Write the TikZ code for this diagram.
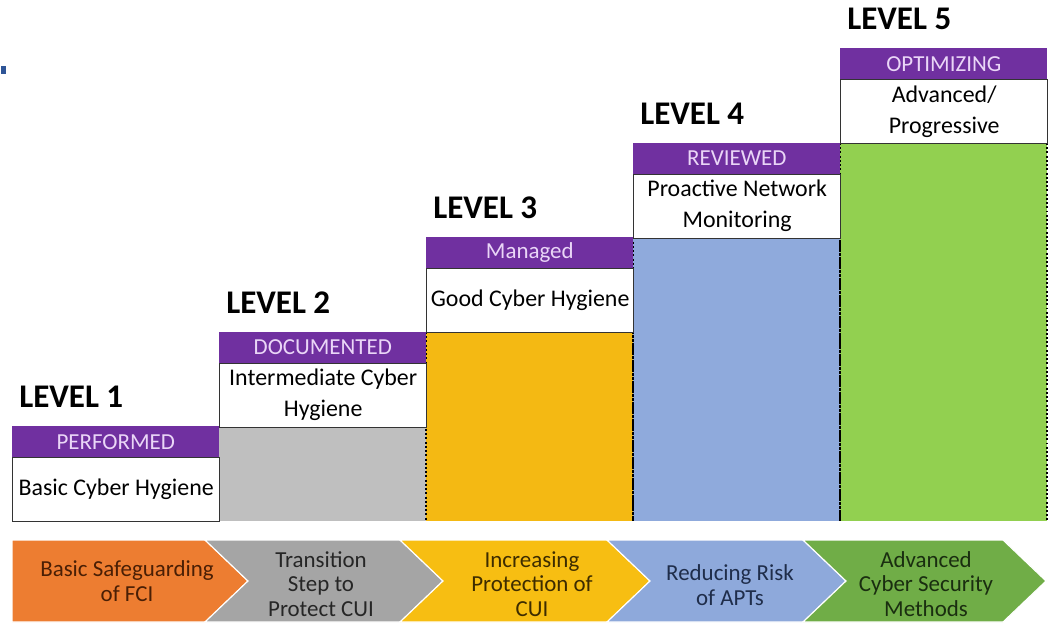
\documentclass[tikz,border=0pt]{standalone}
\usepackage{fontspec}
\setmainfont{Carlito}
\usepackage{xcolor}
\definecolor{lvlpurple}{HTML}{7030A0}
\definecolor{taglav}{HTML}{EAD6F7}
\definecolor{colgray}{HTML}{BFBFBF}
\definecolor{colgold}{HTML}{F4B913}
\definecolor{colblue}{HTML}{8FAADC}
\definecolor{colgreen}{HTML}{92D050}
\definecolor{chorange}{HTML}{ED7D31}
\definecolor{chgray}{HTML}{A5A5A5}
\definecolor{chyellow}{HTML}{F7BE12}
\definecolor{chblue}{HTML}{8EA9DB}
\definecolor{chgreen}{HTML}{70AD47}
\definecolor{txorange}{HTML}{4A1F05}
\definecolor{txgray}{HTML}{262626}
\definecolor{txyellow}{HTML}{3D2C00}
\definecolor{txblue}{HTML}{1F2D4A}
\definecolor{txgreen}{HTML}{1A2E10}
\definecolor{dotblue}{HTML}{2F5597}

\begin{document}
\begin{tikzpicture}
        [
            x=0.025cm, y=-0.025cm,
            tagbar/.style={rectangle, fill=lvlpurple, text=taglav, inner sep=0pt, anchor=north west,
                minimum width=5.175cm, minimum height=0.775cm, font=\fontsize{16.3}{18}\selectfont},
            descbox/.style={rectangle, draw=black!80, line width=0.9pt, fill=white, inner sep=0pt, anchor=north west,
                minimum width=5.175cm, minimum height=1.6cm, align=center, font=\fontsize{17}{22}\selectfont},
            levelname/.style={anchor=west, inner sep=0pt, font=\fontsize{23.5}{26}\selectfont\bfseries},
            phasetext/.style={align=center, inner sep=0pt, font=\fontsize{16.3}{17.5}\selectfont},
            dotside/.style={line width=1.4pt, dash pattern=on 1.4pt off 1.6pt},
        ]
    \useasboundingbox (0,0) rectangle (1051,638);
    \fill[dotblue] (1,66) rectangle (6,74);

    % coloured columns under the steps
    \foreach \i/\c in {1/colgray,2/colgold,3/colblue,4/colgreen}{
        \pgfmathsetmacro{\xl}{12+207*\i}
        \pgfmathsetmacro{\yt}{426-94.5*\i+95}
        \fill[\c] (\xl,\yt) rectangle (\xl+207,521);
    }
    \foreach \i in {2,3,4}{
        \pgfmathsetmacro{\xl}{12+207*\i}
        \pgfmathsetmacro{\yt}{426-94.5*\i+95}
        \draw[dotside] (\xl,\yt) -- (\xl,521);
        \draw[dotside] (\xl+207,\yt) -- (\xl+207,521);
    }

    % steps
    \foreach \i/\tag/\desc in {0/PERFORMED/{Basic Cyber Hygiene},
                               1/DOCUMENTED/{Intermediate Cyber\\Hygiene},
                               2/Managed/{Good Cyber Hygiene},
                               3/REVIEWED/{Proactive Network\\Monitoring},
                               4/OPTIMIZING/{Advanced/\\Progressive}}{
        \pgfmathsetmacro{\xl}{12+207*\i}
        \pgfmathsetmacro{\yt}{426-94.5*\i}
        \node[levelname] (lvl\i) at (\xl+7,\yt-29) {LEVEL \the\numexpr\i+1\relax};
        \node[tagbar] (tag\i) at (\xl,\yt) {\tag};
        \node[descbox] (desc\i) at (\xl,\yt+31) {\desc};
    }

    % chevrons
    \foreach \n/\xa/\xb/\dn/\c in {1/12/205/0/chorange, 2/205/400/43/chgray, 3/400/607/43/chyellow,
                                   4/607/803/43/chblue, 5/803/1003/43/chgreen}{
        \fill[\c, draw=white, line width=0.8pt] (\xa,540) -- (\xb,540) -- (\xb+43,581) -- (\xb,622)
            -- (\xa,622) -- (\xa+\dn,581) -- cycle;
    }
    \node[phasetext, text=txorange] (phase1) at (127,581) {Basic Safeguarding\\of FCI};
    \node[phasetext, text=txgray] (phase2) at (321,584) {Transition\\Step to\\Protect CUI};
    \node[phasetext, text=txyellow] (phase3) at (532,584) {Increasing\\Protection of\\CUI};
    \node[phasetext, text=txblue] (phase4) at (730,585) {Reducing Risk\\of APTs};
    \node[phasetext, text=txgreen] (phase5) at (926,584) {Advanced\\Cyber Security\\Methods};
    \end{tikzpicture}
\end{document}
